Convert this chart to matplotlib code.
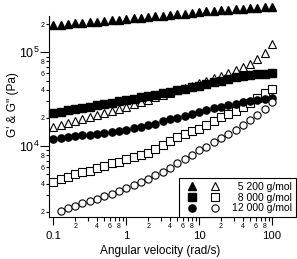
import matplotlib
matplotlib.use("Agg")
from matplotlib import pyplot as plt
from matplotlib.legend_handler import HandlerTuple
from matplotlib.ticker import FixedLocator, FixedFormatter

plt.rcParams['font.family'] = ['Liberation Sans', 'DejaVu Sans']
plt.rcParams['mathtext.fontset'] = 'custom'
plt.rcParams['mathtext.rm'] = 'Liberation Sans'

# Angular velocity (rad/s)
freq = [0.1, 0.126, 0.158, 0.2, 0.251, 0.316, 0.398, 0.501, 0.631, 0.794,
        1.0, 1.26, 1.58, 2.0, 2.51, 3.16, 3.98, 5.01, 6.31, 7.94,
        10.0, 12.6, 15.8, 20.0, 25.1, 31.6, 39.8, 50.1, 63.1, 79.4, 100.0]

# G' and G'' (Pa)
g1_5200 = [1.95e5, 1.97e5, 2.00e5, 2.03e5, 2.06e5, 2.09e5, 2.12e5, 2.15e5, 2.18e5, 2.22e5,
           2.26e5, 2.30e5, 2.34e5, 2.38e5, 2.42e5, 2.46e5, 2.50e5, 2.54e5, 2.58e5, 2.63e5,
           2.68e5, 2.72e5, 2.76e5, 2.80e5, 2.84e5, 2.88e5, 2.92e5, 2.95e5, 2.98e5, 3.01e5, 3.03e5]
g2_5200 = [1.60e4, 1.68e4, 1.77e4, 1.86e4, 1.95e4, 2.05e4, 2.15e4, 2.26e4, 2.37e4, 2.49e4,
           2.62e4, 2.78e4, 2.94e4, 3.12e4, 3.30e4, 3.50e4, 3.70e4, 3.92e4, 4.15e4, 4.40e4,
           4.68e4, 4.98e4, 5.30e4, 5.65e4, 6.05e4, 6.45e4, 6.90e4, 7.50e4, 8.40e4, 9.90e4, 1.22e5]
g1_8000 = [2.26e4, 2.33e4, 2.40e4, 2.48e4, 2.56e4, 2.64e4, 2.72e4, 2.81e4, 2.90e4, 3.00e4,
           3.10e4, 3.20e4, 3.30e4, 3.42e4, 3.55e4, 3.68e4, 3.82e4, 3.96e4, 4.10e4, 4.25e4,
           4.42e4, 4.60e4, 4.80e4, 5.00e4, 5.20e4, 5.40e4, 5.55e4, 5.70e4, 5.82e4, 5.92e4, 6.00e4]
g2_8000 = [4.20e3, 4.45e3, 4.75e3, 5.03e3, 5.28e3, 5.50e3, 5.83e3, 6.17e3, 6.59e3, 6.85e3,
           7.27e3, 7.63e3, 8.00e3, 8.55e3, 9.40e3, 1.03e4, 1.14e4, 1.26e4, 1.35e4, 1.44e4,
           1.53e4, 1.68e4, 1.85e4, 2.03e4, 2.20e4, 2.39e4, 2.60e4, 2.87e4, 3.25e4, 3.65e4, 4.06e4]
g1_12000 = [1.19e4, 1.21e4, 1.24e4, 1.27e4, 1.30e4, 1.33e4, 1.36e4, 1.39e4, 1.42e4, 1.46e4,
            1.49e4, 1.55e4, 1.61e4, 1.67e4, 1.74e4, 1.84e4, 1.93e4, 2.02e4, 2.11e4, 2.21e4,
            2.32e4, 2.42e4, 2.52e4, 2.63e4, 2.73e4, 2.83e4, 2.92e4, 3.00e4, 3.10e4, 3.18e4, 3.26e4]
g2_12000 = [2.05e3, 2.18e3, 2.32e3, 2.46e3, 2.61e3, 2.77e3, 2.94e3, 3.13e3, 3.33e3,
            3.55e3, 3.83e3, 4.15e3, 4.50e3, 4.90e3, 5.35e3, 5.90e3, 6.55e3, 7.30e3, 8.10e3,
            9.00e3, 9.90e3, 1.10e4, 1.22e4, 1.35e4, 1.50e4, 1.68e4, 1.89e4, 2.14e4, 2.50e4, 2.96e4]

labels = ["  5 200 g/mol", "  8 000 g/mol", "12 000 g/mol"]

# tick labels
x_major = [0.1, 1, 10, 100]
x_major_labels = ["0.1", "1", "10", "100"]
y_major = [1e4, 1e5]
y_major_labels = [r"$10^{4}$", r"$10^{5}$"]
minor_digits = [2, 3, 4, 5, 6, 7, 8, 9]
minor_shown = ["2", "", "4", "", "6", "", "8", ""]

fig = plt.figure(figsize=(2.97, 2.59), dpi=100)
ax = fig.add_axes([0.166, 0.162, 0.750, 0.776])

ms = 5.2
kw = dict(linestyle="none", clip_on=False, markersize=ms, color="black")
h1a, = ax.plot(freq, g1_5200, marker="^", **kw)
h1b, = ax.plot(freq, g2_5200, marker="^", mfc="white", mew=0.8, **kw)
h2a, = ax.plot(freq, g1_8000, marker="s", **kw)
h2b, = ax.plot(freq, g2_8000, marker="s", mfc="white", mew=0.8, **kw)
h3a, = ax.plot(freq, g1_12000, marker="o", **kw)
h3b, = ax.plot(freq[1:], g2_12000, marker="o", mfc="white", mew=0.8, **kw)

ax.set_xscale("log")
ax.set_yscale("log")
ax.set_xlim(0.0882, 100)
ax.set_ylim(1.76e3, 2.43e5)

x_minor = [d * m for m in [0.1, 1, 10] for d in minor_digits]
x_minor_labels = minor_shown * 3
y_minor = [d * m for m in [1e3, 1e4, 1e5] for d in minor_digits]
y_minor = [v for v in y_minor if v <= 2.43e5]
y_minor_labels = (minor_shown * 3)[:len(y_minor)]

ax.xaxis.set_major_locator(FixedLocator(x_major))
ax.xaxis.set_major_formatter(FixedFormatter(x_major_labels))
ax.xaxis.set_minor_locator(FixedLocator(x_minor))
ax.xaxis.set_minor_formatter(FixedFormatter(x_minor_labels))
ax.yaxis.set_major_locator(FixedLocator(y_major))
ax.yaxis.set_major_formatter(FixedFormatter(y_major_labels))
ax.yaxis.set_minor_locator(FixedLocator(y_minor))
ax.yaxis.set_minor_formatter(FixedFormatter(y_minor_labels))

ax.tick_params(which="major", axis="x", length=6, width=0.8, labelsize=8.2, pad=4.2)
ax.tick_params(which="minor", axis="x", length=3, width=0.8, labelsize=5, pad=1.3)
ax.tick_params(which="major", axis="y", length=6.5, width=0.8, labelsize=9, pad=0.8)
ax.tick_params(which="minor", axis="y", length=2.5, width=0.8, labelsize=5, pad=1.0)

for s in ["top", "right"]:
    ax.spines[s].set_visible(False)
for s in ["left", "bottom"]:
    ax.spines[s].set_linewidth(0.8)

ax.set_xlabel("Angular velocity (rad/s)", fontsize=8.5, labelpad=2.5)
ax.set_ylabel("G' & G'' (Pa)", fontsize=8.5, labelpad=1)
ax.yaxis.set_label_coords(-0.135, 0.56)

leg = ax.legend([(h1a, h1b), (h2a, h2b), (h3a, h3b)], labels,
                handler_map={tuple: HandlerTuple(ndivide=None, pad=0.29)},
                loc="lower right", bbox_to_anchor=(296 / 297, 1 - 217 / 259),
                bbox_transform=fig.transFigure, borderaxespad=0,
                fontsize=7.5, handlelength=4.0, handletextpad=0.77,
                labelspacing=0.08, borderpad=0.35, fancybox=False,
                edgecolor="black", framealpha=1)
leg.get_frame().set_linewidth(0.8)

plt.savefig("out.png", dpi=100)
